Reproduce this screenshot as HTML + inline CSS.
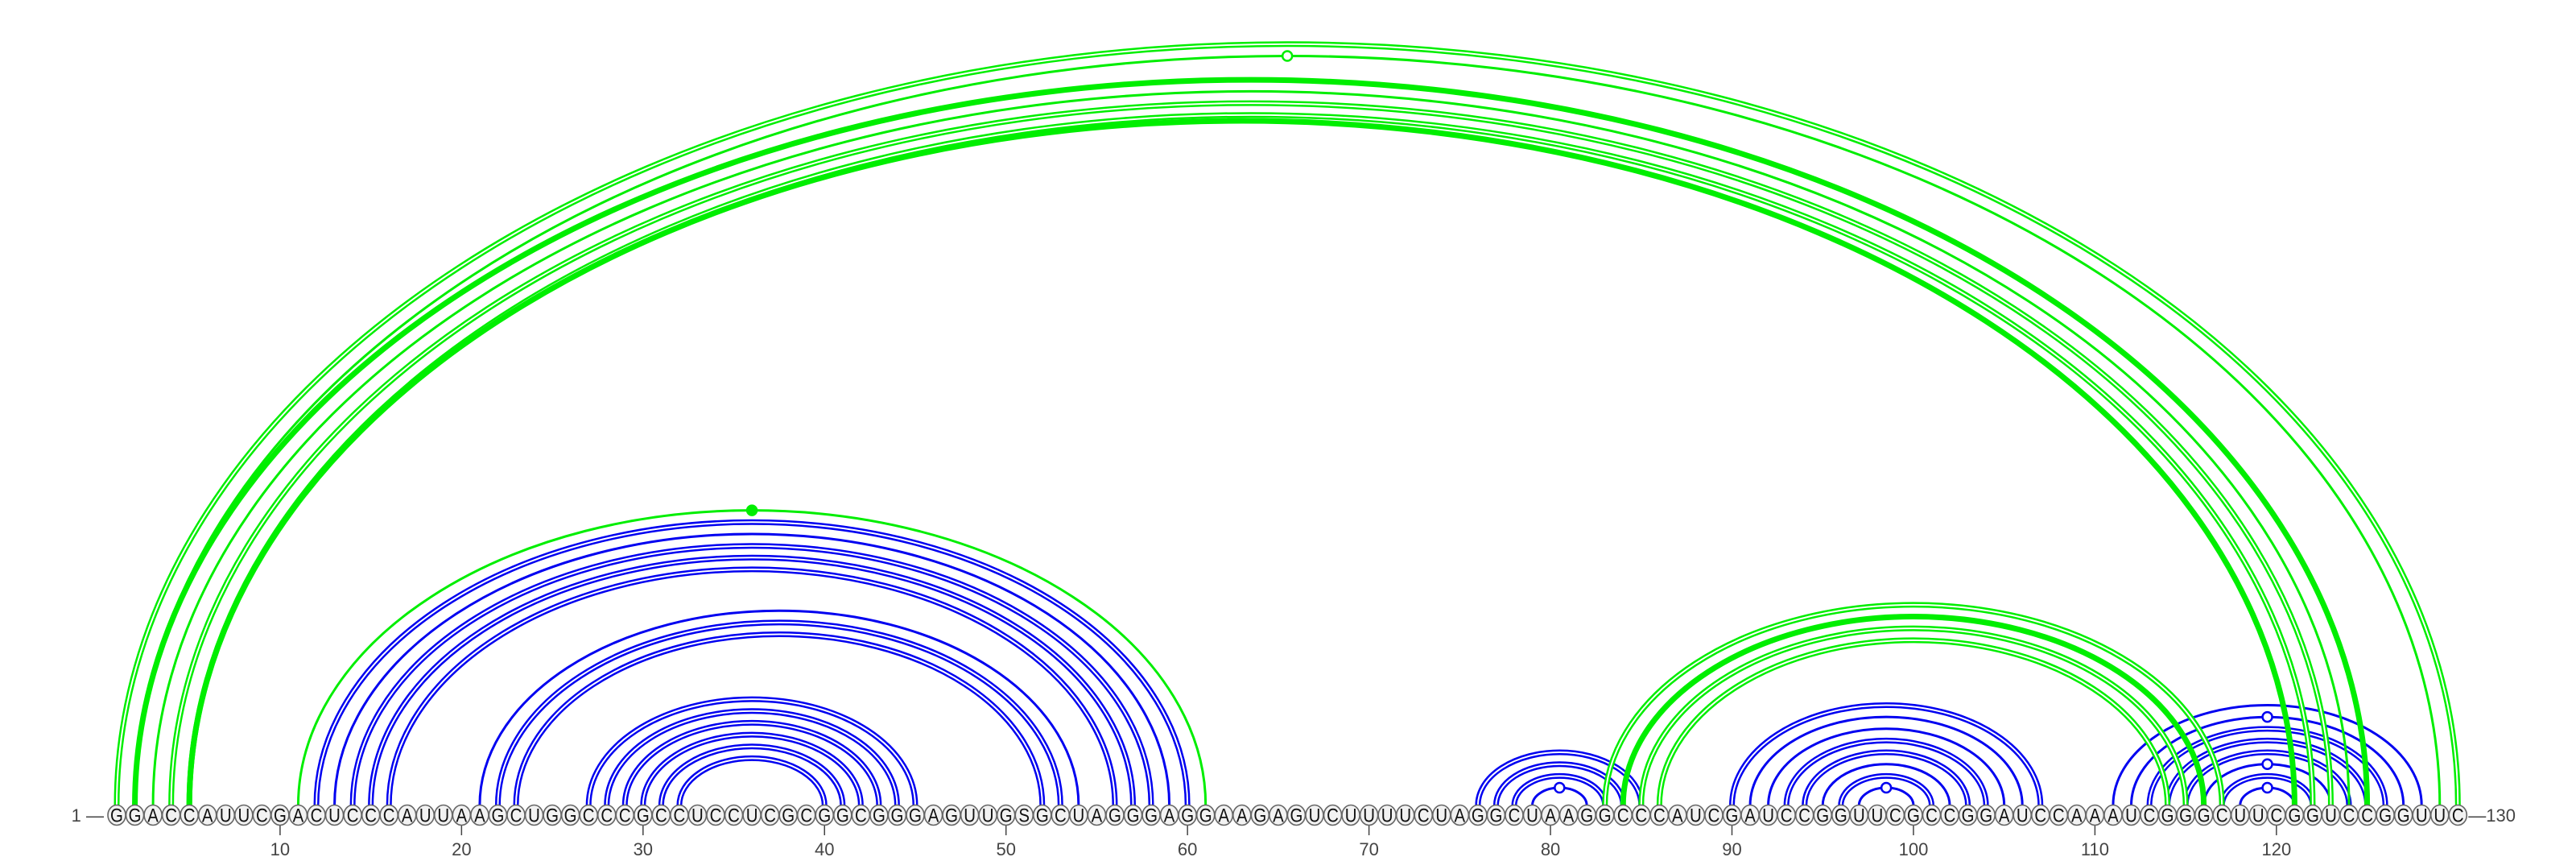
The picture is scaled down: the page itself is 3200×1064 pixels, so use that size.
<!DOCTYPE html>
<html><head><meta charset="utf-8"><style>
html,body{margin:0;padding:0;background:#fff;}
svg{display:block;}
text{font-family:"Liberation Sans",sans-serif;}
</style></head><body>
<svg id="chart" width="3200" height="1064" viewBox="0 0 3200 1064" xmlns="http://www.w3.org/2000/svg">
<g id="arcs"></g>
<g id="nts"></g>
<g id="axis"></g>
</svg>
<script>
const sequence = "GGACCAUUCGACUCCCAUUAAGCUGGCCCGCCUCCUCGCGGCGGGAGUUGSGCUAGGGAGGAAGAGUCUUUUCUAGGCUAAGGCCCAUCGAUCCGGUUCGCCGGAUCCAAAUCGGGCUUCGGUCCGGUUC";
const bluePairs5 = [12,13,14,15,16,21,22,23,27,28,29,30,31,32,76,77,78,79,90,91,92,93,94,95,96,97,111,112,113,114,115,116,117,118];
const bluePairs3 = [60,59,58,57,56,54,53,52,45,44,43,42,41,40,85,84,83,82,107,106,105,104,103,102,101,100,128,127,126,125,124,123,122,121];
const blueStyle  = ["d","s","d","d","d","s","d","d","d","d","d","d","d","d","d","d","d","s","d","s","s","d","d","s","d","s","s","s","d","d","d","s","d","s"];
const blueMarker = [0,0,0,0,0,0,0,0,0,0,0,0,0,0,0,0,0,1,0,0,0,0,0,0,0,1,0,1,0,0,0,1,0,1];
const greenPairs5 = [1,2,2,3,4,5,5,11,83,84,85,86];
const greenPairs3 = [130,129,125,124,123,122,121,61,117,116,115,114];
const greenStyle  = ["d","s","t","s","d","d","t","s","d","t","d","d"];
const greenMarker = [0,1,0,0,0,0,0,2,0,0,0,0];
const tickValues = [10,20,30,40,50,60,70,80,90,100,110,120];

const NS="http://www.w3.org/2000/svg";
const X0=145, DX=22.545, BASE=1000, CY=1012, RATIO=0.65;
function xPos(i){return X0+(i-1)*DX;}
function mk(tag,attrs,parent){const e=document.createElementNS(NS,tag);for(const k in attrs)e.setAttribute(k,attrs[k]);parent.appendChild(e);return e;}
const arcs=document.getElementById('arcs');
function drawArc(a,b,style,marker,color,name){
  const x1=xPos(a),x2=xPos(b),rx=(x2-x1)/2,ry=rx*RATIO;
  const d=`M${x1},${BASE} A${rx},${ry} 0 0 1 ${x2},${BASE}`;
  const g=mk('g',{},arcs);
  
  
  if(style==='d'){
    mk('path',{d:d,fill:'none',stroke:color,'stroke-width':7},g);
    mk('path',{d:d,fill:'none',stroke:'#fff','stroke-width':2},g);
  } else if(style==='t'){
    mk('path',{d:d,fill:'none',stroke:color,'stroke-width':7},g);
  } else {
    mk('path',{d:d,fill:'none',stroke:color,'stroke-width':3},g);
  }
  if(marker){
    const m=mk('circle',{cx:(x1+x2)/2,cy:BASE-ry,r:6,fill:marker===2?color:'#fff',stroke:color,'stroke-width':2.5},g);
    
    
  }
}
for(let k=0;k<bluePairs5.length;k++) drawArc(bluePairs5[k],bluePairs3[k],blueStyle[k],blueMarker[k],'#0000f0','blue-arc');
for(let k=0;k<greenPairs5.length;k++) drawArc(greenPairs5[k],greenPairs3[k],greenStyle[k],greenMarker[k],'#00ee00','green-arc');

const nts=document.getElementById('nts');
for(let i=1;i<=sequence.length;i++){
  const x=xPos(i);
  const c=mk('ellipse',{cx:x,cy:CY,rx:11,ry:12.5,fill:'#f2f2f2',stroke:'#666','stroke-width':1.6},nts);
  
  
  const t=mk('text',{x:x,y:CY+8.5,'text-anchor':'middle','font-size':24,fill:'#111',transform:`translate(${x},0) scale(0.85,1) translate(${-x},0)`},nts);
  
  
  t.textContent=sequence[i-1];
}
const axis=document.getElementById('axis');
for(const v of tickValues){
  const x=xPos(v);
  const l=mk('line',{x1:x,y1:1025,x2:x,y2:1037,stroke:'#444','stroke-width':1.5},axis);
  
  
  const t=mk('text',{x:x,y:1062,'text-anchor':'middle','font-size':22,fill:'#444'},axis);
  
  
  t.textContent=v;
}
const s=mk('text',{x:xPos(1)-16,y:CY+8,'text-anchor':'end','font-size':22,fill:'#444'},axis);


s.textContent='1 —';
const e=mk('text',{x:xPos(sequence.length)+13,y:CY+8,'text-anchor':'start','font-size':22,fill:'#444'},axis);


e.textContent='—130';
</script>
</body></html>
